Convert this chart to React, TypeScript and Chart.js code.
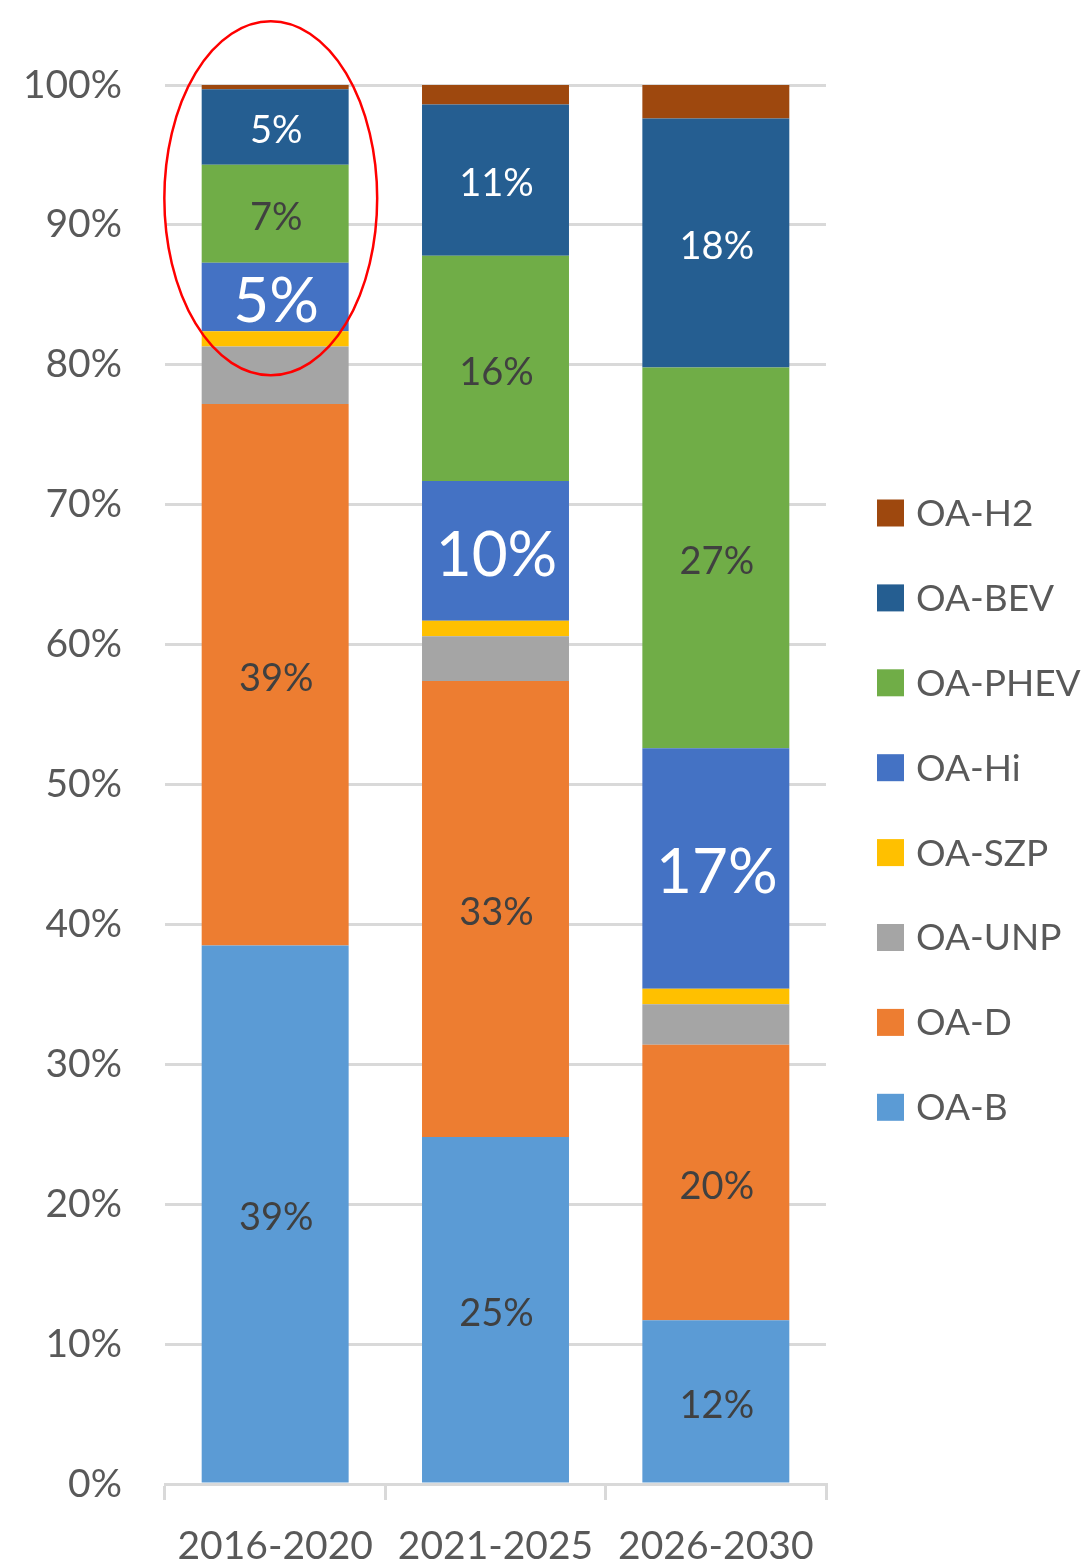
import React, { useEffect, useRef } from 'react';
import { Chart, registerables } from 'chart.js';

Chart.register(...registerables);

const categories = ['2016-2020', '2021-2025', '2026-2030'];
const seriesNames = ['OA-B', 'OA-D', 'OA-UNP', 'OA-SZP', 'OA-Hi', 'OA-PHEV', 'OA-BEV', 'OA-H2'];
const oaB = [38.5, 24.8, 11.7];
const oaD = [38.7, 32.6, 19.7];
const oaUNP = [4.1, 3.2, 2.9];
const oaSZP = [1.1, 1.1, 1.1];
const oaHi = [4.9, 10.0, 17.2];
const oaPHEV = [7.0, 16.1, 27.2];
const oaBEV = [5.4, 10.8, 17.8];
const oaH2 = [0.3, 1.4, 2.4];
const yTickValues = [0, 10, 20, 30, 40, 50, 60, 70, 80, 90, 100];

// highlighted region (data units): category center, y center, half-spans
const highlightCategory = -0.02;
const highlightY = 91.9;
const highlightHalfCat = 0.483;
const highlightHalfY = 12.65;

const seriesData = [oaB, oaD, oaUNP, oaSZP, oaHi, oaPHEV, oaBEV, oaH2];
const colors = ['#5B9BD5', '#ED7D31', '#A5A5A5', '#FFC000', '#4472C4', '#70AD47', '#255E91', '#9E480E'];
// label styles per series (null = no label)
const labelStyles: ({ size: number; color: string; dy: number } | null)[] = [
  { size: 38, color: '#404040', dy: 4 },
  { size: 38, color: '#404040', dy: 4 },
  null,
  null,
  { size: 62, color: '#FFFFFF', dy: 5 },
  { size: 38, color: '#404040', dy: 4 },
  { size: 38, color: '#FFFFFF', dy: 4 },
  null,
];

const FONT = 'Lato';

const segLabelPlugin = {
  id: 'segLabels',
  afterDatasetsDraw(chart: any) {
    const ctx = chart.ctx;
    chart.data.datasets.forEach((ds: any, i: number) => {
      const st = labelStyles[i];
      if (!st) return;
      const meta = chart.getDatasetMeta(i);
      meta.data.forEach((bar: any, j: number) => {
        const p = bar.getProps(['x', 'y', 'base'], true);
        ctx.save();
        ctx.font = `${st.size}px ${FONT}`;
        ctx.fillStyle = st.color;
        ctx.textAlign = 'center';
        ctx.textBaseline = 'middle';
        ctx.fillText(Math.round(ds.data[j]) + '%', p.x + 1, (p.y + p.base) / 2 + st.dy);
        ctx.restore();
      });
    });
  },
};

const ellipsePlugin = {
  id: 'ellipse',
  afterDraw(chart: any) {
    const xs = chart.scales.x;
    const ys = chart.scales.y;
    const cx = xs.getPixelForValue(highlightCategory);
    const cy = ys.getPixelForValue(highlightY);
    const rx = highlightHalfCat * (xs.getPixelForValue(1) - xs.getPixelForValue(0));
    const ry = ys.getPixelForValue(highlightY - highlightHalfY) - cy;
    const ctx = chart.ctx;
    ctx.save();
    ctx.beginPath();
    ctx.ellipse(cx, cy, rx, ry, 0, 0, Math.PI * 2);
    ctx.strokeStyle = '#FF0000';
    ctx.lineWidth = 2.5;
    ctx.stroke();
    ctx.restore();
  },
};

const legendPlugin = {
  id: 'customLegend',
  afterDraw(chart: any) {
    const ctx = chart.ctx;
    const ds = chart.data.datasets;
    const x0 = chart.chartArea.right + 51;
    const y0 = 513;
    const step = 84.9;
    const box = 27;
    ctx.save();
    ctx.font = `37px ${FONT}`;
    ctx.textAlign = 'left';
    ctx.textBaseline = 'middle';
    for (let k = 0; k < ds.length; k++) {
      const d = ds[ds.length - 1 - k];
      const y = y0 + k * step;
      ctx.fillStyle = d.backgroundColor;
      ctx.fillRect(x0, y - box / 2, box, box);
      ctx.fillStyle = '#595959';
      ctx.fillText(d.label, x0 + box + 12, y + 1);
    }
    ctx.restore();
  },
};

export default function App() {
  const ref = useRef<HTMLCanvasElement>(null);
  useEffect(() => {
    if (!ref.current) return;
    const chart = new Chart(ref.current, {
      type: 'bar',
      data: {
        labels: categories,
        datasets: seriesNames.map((name, i) => ({
          label: name,
          data: seriesData[i],
          backgroundColor: colors[i],
          borderWidth: 0,
          categoryPercentage: 1,
          barPercentage: 0.667,
        })),
      },
      options: {
        responsive: false,
        animation: false,
        devicePixelRatio: 1,
        layout: { padding: { top: 85, right: 260, left: 0, bottom: 0 } },
        plugins: {
          legend: { display: false },
          tooltip: { enabled: false },
        },
        scales: {
          x: {
            stacked: true,
            grid: {
              display: true,
              drawOnChartArea: false,
              drawTicks: true,
              tickLength: 16,
              color: '#D9D9D9',
              lineWidth: 3,
              offset: true,
            },
            border: { display: true, color: '#D9D9D9', width: 3 },
            ticks: {
              color: '#595959',
              font: { family: FONT, size: 39 },
              padding: 23,
              maxRotation: 0,
            },
            afterFit: (s: any) => {
              s.height = 81;
            },
          },
          y: {
            stacked: true,
            min: 0,
            max: 100,
            afterBuildTicks: (s: any) => {
              s.ticks = yTickValues.map((v) => ({ value: v }));
            },
            grid: { color: '#D9D9D9', lineWidth: 3, drawTicks: false },
            border: { display: false },
            ticks: {
              color: '#595959',
              font: { family: FONT, size: 39 },
              padding: 43,
              callback: (v: any) => v + '%',
            },
            afterFit: (s: any) => {
              s.width = 165;
            },
          },
        },
      },
      plugins: [segLabelPlugin, ellipsePlugin, legendPlugin],
    });
    return () => chart.destroy();
  }, []);
  return (
    <div style={{ position: 'absolute', left: 0, top: 0, width: 1086, height: 1565, background: '#fff' }}>
      <canvas ref={ref} width={1086} height={1565} style={{ width: 1086, height: 1565 }} />
    </div>
  );
}
